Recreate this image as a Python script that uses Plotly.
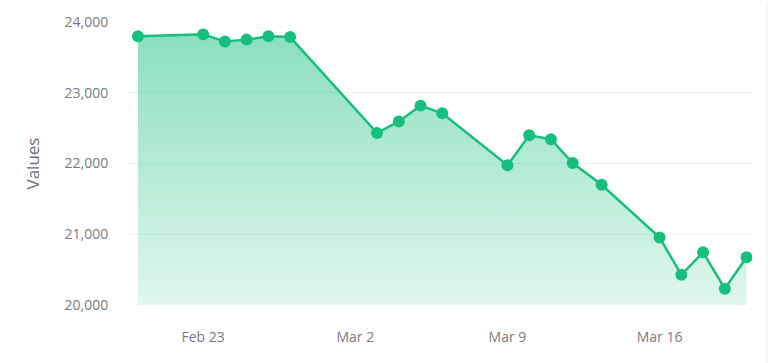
import plotly.graph_objects as go

dates = [
    "2026-02-20", "2026-02-23", "2026-02-24", "2026-02-25", "2026-02-26", "2026-02-27",
    "2026-03-03", "2026-03-04", "2026-03-05", "2026-03-06",
    "2026-03-09", "2026-03-10", "2026-03-11", "2026-03-12", "2026-03-13 08:00",
    "2026-03-16", "2026-03-17", "2026-03-18", "2026-03-19", "2026-03-20",
]
values = [
    23797, 23825, 23723, 23751, 23797, 23787,
    22431, 22594, 22818, 22710,
    21975, 22399, 22343, 22007, 21699,
    20954, 20427, 20744, 20231, 20674,
]
tick_dates = ["2026-02-23", "2026-03-02", "2026-03-09", "2026-03-16"]
tick_labels = ["Feb 23", "Mar 2", "Mar 9", "Mar 16"]
y_ticks = [20000, 21000, 22000, 23000, 24000]

green = "#17bf7c"

fig = go.Figure()
fig.add_trace(go.Scatter(
    x=dates, y=values,
    mode="lines+markers",
    line=dict(color=green, width=2.5),
    marker=dict(color=green, size=12),
    fill="tozeroy",
    fillgradient=dict(
        type="vertical",
        start=20000, stop=23830,
        colorscale=[[0, "rgba(23,191,124,0.13)"], [1, "rgba(23,191,124,0.50)"]],
    ),
    hoverinfo="skip",
))

fig.update_layout(
    width=770, height=363,
    margin=dict(l=128, r=18, t=19.5, b=57.5),
    paper_bgcolor="white", plot_bgcolor="white",
    font=dict(family="Open Sans", color="#7a7a80", size=14),
    showlegend=False,
    xaxis=dict(
        type="date",
        range=["2026-02-19 13:00", "2026-03-20 06:00"],
        tickvals=tick_dates, ticktext=tick_labels,
        showgrid=False, zeroline=False, showline=False,
        ticks="outside", ticklen=19, tickcolor="rgba(0,0,0,0)",
        tickfont=dict(size=14, color="#7a7a80"),
    ),
    yaxis=dict(
        range=[20000, 24000],
        tickvals=y_ticks, tickformat=",d",
        showgrid=True, gridcolor="#f1f1f3", gridwidth=1,
        zeroline=False, showline=False,
        ticks="outside", ticklen=16, tickcolor="rgba(0,0,0,0)",
        tickfont=dict(size=14, color="#7a7a80"),
        title=dict(text="Values", font=dict(size=17, color="#6e6e78"), standoff=20),
    ),
    shapes=[dict(
        type="line", xref="paper", yref="paper",
        x0=1.024, x1=1.024, y0=-0.21, y1=1.07,
        line=dict(color="#ececec", width=1),
    )],
)

fig.write_html("out.html")
